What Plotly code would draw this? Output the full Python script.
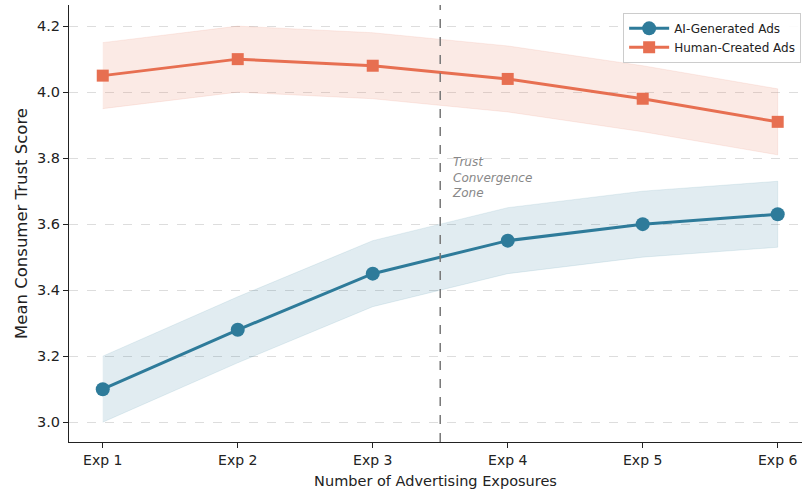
import plotly.graph_objects as go

categories = ["Exp 1", "Exp 2", "Exp 3", "Exp 4", "Exp 5", "Exp 6"]
ai_mean = [3.10, 3.28, 3.45, 3.55, 3.60, 3.63]
ai_err = [0.10, 0.10, 0.10, 0.10, 0.10, 0.10]
human_mean = [4.05, 4.10, 4.08, 4.04, 3.98, 3.91]
human_err = [0.10, 0.10, 0.10, 0.10, 0.10, 0.10]
y_ticks = [3.0, 3.2, 3.4, 3.6, 3.8, 4.0, 4.2]

AI_COLOR = "#2E7B9A"
HU_COLOR = "#E76F51"

xs = list(range(len(categories)))
fig = go.Figure()

def band(mean, err, fillcolor):
    up = [m + e for m, e in zip(mean, err)]
    lo = [m - e for m, e in zip(mean, err)]
    fig.add_trace(go.Scatter(x=xs + xs[::-1], y=up + lo[::-1], fill="toself",
                             fillcolor=fillcolor, line=dict(width=0.8, color=fillcolor),
                             mode="lines", showlegend=False, hoverinfo="skip"))

band(human_mean, human_err, "rgba(231,111,81,0.15)")
band(ai_mean, ai_err, "rgba(46,123,154,0.14)")

fig.add_trace(go.Scatter(x=xs, y=ai_mean, mode="lines+markers", name="AI-Generated Ads",
                         line=dict(color=AI_COLOR, width=3),
                         marker=dict(symbol="circle", size=14, color=AI_COLOR)))
fig.add_trace(go.Scatter(x=xs, y=human_mean, mode="lines+markers", name="Human-Created Ads",
                         line=dict(color=HU_COLOR, width=3),
                         marker=dict(symbol="square", size=12, color=HU_COLOR)))

fig.add_shape(type="line", x0=2.5, x1=2.5, y0=0, y1=1, yref="paper", xref="x",
              line=dict(color="#777777", width=1.5, dash="dash"))
fig.add_annotation(x=2.57, y=3.815, xref="x", yref="y", text="<i>Trust<br>Convergence<br>Zone</i>",
                   showarrow=False, xanchor="left", yanchor="top", align="left",
                   font=dict(size=12, color="#888888", family="DejaVu Sans"))

fig.update_layout(
    width=802, height=490,
    margin=dict(l=69, r=0, t=5, b=48),
    plot_bgcolor="white", paper_bgcolor="white",
    font=dict(family="DejaVu Sans", size=14, color="#222222"),
    legend=dict(x=0.756, y=0.982, xanchor="left", yanchor="top",
                bgcolor="rgba(255,255,255,0.9)", bordercolor="#cccccc", borderwidth=1,
                font=dict(size=12), tracegroupgap=0, itemwidth=40),
    xaxis=dict(range=[-0.25, 5.18], tickmode="array", tickvals=xs, ticktext=categories,
               showline=True, linecolor="#222222", linewidth=1.2, ticks="outside",
               ticklen=5, tickcolor="#222222", showgrid=False, zeroline=False,
               tickfont=dict(size=14),
               title=dict(text="Number of Advertising Exposures", standoff=8, font=dict(size=14.5))),
    yaxis=dict(range=[2.94, 4.264], tickmode="array", tickvals=y_ticks,
               ticktext=[f"{v:.1f}" for v in y_ticks],
               showline=True, linecolor="#222222", linewidth=1.2, ticks="outside",
               ticklen=5, tickcolor="#222222", showgrid=True, gridcolor="#dddddd",
               griddash="dash", gridwidth=1, zeroline=False,
               tickfont=dict(size=14.5),
               title=dict(text="Mean Consumer Trust Score", standoff=5, font=dict(size=16.5))),
)

fig.write_html("out.html")
